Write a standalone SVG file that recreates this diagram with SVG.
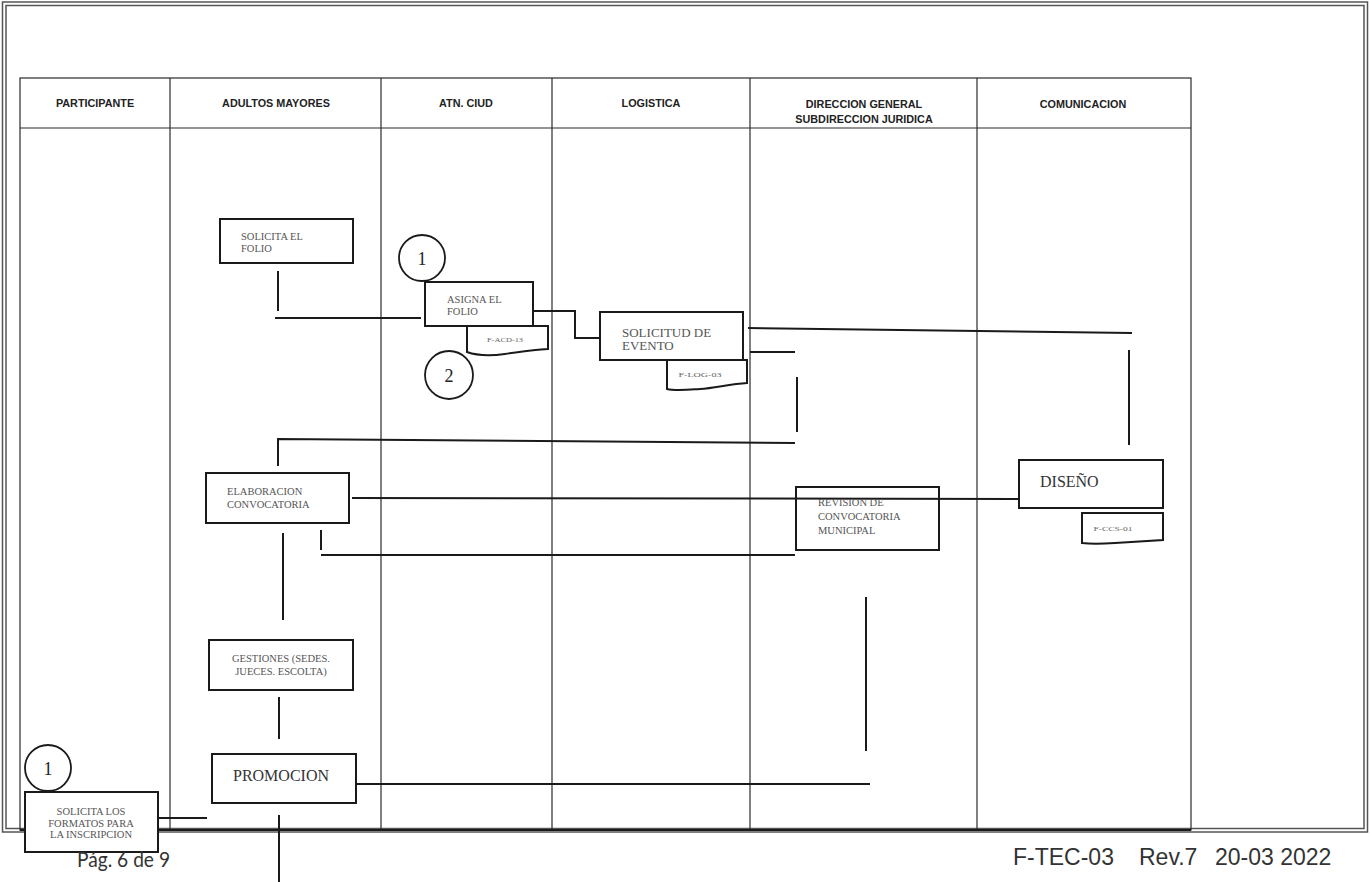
<svg xmlns="http://www.w3.org/2000/svg" width="1370" height="882" viewBox="0 0 1370 882">
<style>
.page{fill:none;stroke:#555;stroke-width:1.5}
.grid{fill:none;stroke:#2a2a2a;stroke-width:1.2}
.hdr{font-family:"Liberation Sans",Arial,sans-serif;font-weight:bold;font-size:10.8px;fill:#222;text-anchor:middle}
.box{fill:#fff;stroke:#1a1a1a;stroke-width:2}
.lbl{font-family:"Liberation Serif","Times New Roman",serif;font-size:10.5px;fill:#555}
.big{font-family:"Liberation Serif","Times New Roman",serif;font-size:16px;fill:#333}
.mid{font-family:"Liberation Serif","Times New Roman",serif;font-size:13px;fill:#555}
.tiny{font-family:"Liberation Serif","Times New Roman",serif;font-size:6.5px;fill:#666;text-anchor:middle}
.num{font-family:"Liberation Serif","Times New Roman",serif;font-size:18px;fill:#222;text-anchor:middle}
.cir{fill:#fff;stroke:#1a1a1a;stroke-width:1.8}
.con{fill:none;stroke:#1a1a1a;stroke-width:2}
.c{text-anchor:middle}
</style>
<rect width="1370" height="882" fill="#fff"/>
<g id="page">
<rect class="page" x="2.5" y="2" width="1365" height="830"/>
<rect class="page" x="6" y="5.5" width="1358" height="823"/>
</g>
<g id="table">
<rect class="grid" x="20" y="78" width="1171" height="752"/>
<line class="grid" x1="20" y1="128" x2="1191" y2="128"/>
<line class="grid" x1="170" y1="78" x2="170" y2="830"/>
<line class="grid" x1="381" y1="78" x2="381" y2="830"/>
<line class="grid" x1="552" y1="78" x2="552" y2="830"/>
<line class="grid" x1="750" y1="78" x2="750" y2="830"/>
<line class="grid" x1="977" y1="78" x2="977" y2="830"/>
<line x1="20" y1="830" x2="1191" y2="830" stroke="#1a1a1a" stroke-width="2"/>
<text class="hdr" x="95" y="107">PARTICIPANTE</text>
<text class="hdr" x="276" y="107">ADULTOS MAYORES</text>
<text class="hdr" x="466" y="107">ATN. CIUD</text>
<text class="hdr" x="651" y="107">LOGISTICA</text>
<text class="hdr" x="864" y="108">DIRECCION GENERAL</text>
<text class="hdr" x="864" y="123">SUBDIRECCION JURIDICA</text>
<text class="hdr" x="1083" y="108">COMUNICACION</text>
</g>
<g id="connectors">
<line class="con" x1="278" y1="271" x2="278" y2="311"/>
<line class="con" x1="275" y1="318" x2="421" y2="318"/>
<polyline class="con" points="533,311 575,311 575,338 600,338"/>
<line class="con" x1="748" y1="328" x2="1132" y2="333"/>
<line class="con" x1="1129" y1="350" x2="1129" y2="445"/>
<line class="con" x1="750" y1="352" x2="795" y2="352"/>
<line class="con" x1="797" y1="377" x2="797" y2="432"/>
<polyline class="con" points="278,466 278,439 795,443"/>
<line class="con" x1="352" y1="498" x2="1021" y2="499"/>
<line class="con" x1="283" y1="533" x2="283" y2="620"/>
<line class="con" x1="321" y1="530" x2="321" y2="550"/>
<line class="con" x1="321" y1="555" x2="795" y2="555"/>
<line class="con" x1="866" y1="597" x2="866" y2="751"/>
<line class="con" x1="279" y1="697" x2="279" y2="739"/>
<line class="con" x1="356" y1="784" x2="870" y2="784"/>
<line class="con" x1="279" y1="815" x2="279" y2="882"/>
<line class="con" x1="155" y1="818" x2="207" y2="818"/>
</g>
<g id="solicita-folio">
<rect class="box" x="220" y="219" width="133" height="44"/>
<text class="lbl" x="241" y="240">SOLICITA EL</text>
<text class="lbl" x="241" y="252">FOLIO</text>
</g>
<g id="asigna-folio">
<rect class="box" x="425" y="282" width="108" height="44"/>
<text class="lbl" x="447" y="303">ASIGNA EL</text>
<text class="lbl" x="447" y="315">FOLIO</text>
</g>
<g id="doc-acd">
<path class="box" d="M467,326 H548 V349 C530,350 520,352 505,354 C490,356 478,356 467,352 Z"/>
<text class="tiny" x="505" y="342" textLength="36" lengthAdjust="spacingAndGlyphs">F-ACD-13</text>
</g>
<g id="circle-1a">
<circle class="cir" cx="422" cy="258" r="23"/>
<text class="num" x="422" y="265">1</text>
</g>
<g id="circle-2">
<circle class="cir" cx="449" cy="375" r="24"/>
<text class="num" x="449" y="382">2</text>
</g>
<g id="solicitud-evento">
<rect class="box" x="600" y="312" width="143" height="48"/>
<text class="mid" x="622" y="337">SOLICITUD DE</text>
<text class="mid" x="622" y="350">EVENTO</text>
</g>
<g id="doc-log">
<path class="box" d="M667,360 H747 V383 C730,384 715,388 700,389 C685,390 675,391 667,389 Z"/>
<text class="tiny" x="700" y="377" textLength="43" lengthAdjust="spacingAndGlyphs">F-LOG-03</text>
</g>
<g id="elaboracion">
<rect class="box" x="206" y="473" width="143" height="50"/>
<text class="lbl" x="227" y="495">ELABORACION</text>
<text class="lbl" x="227" y="508">CONVOCATORIA</text>
</g>
<g id="revision">
<rect class="box" x="796" y="487" width="143" height="63" fill-opacity="0"/>
<text class="lbl" x="818" y="506">REVISION DE</text>
<text class="lbl" x="818" y="520">CONVOCATORIA</text>
<text class="lbl" x="818" y="534">MUNICIPAL</text>
</g>
<g id="diseno">
<rect class="box" x="1019" y="460" width="144" height="48"/>
<text class="big" x="1040" y="487">DISEÑO</text>
</g>
<g id="doc-ccs">
<path class="box" d="M1082,513 H1163 V540 C1145,541 1130,542 1115,543 C1100,544 1090,544 1082,543 Z"/>
<text class="tiny" x="1113" y="531" textLength="39" lengthAdjust="spacingAndGlyphs">F-CCS-01</text>
</g>
<g id="gestiones">
<rect class="box" x="209" y="640" width="144" height="50"/>
<text class="lbl c" x="281" y="662">GESTIONES (SEDES.</text>
<text class="lbl c" x="281" y="675">JUECES. ESCOLTA)</text>
</g>
<g id="promocion">
<rect class="box" x="212" y="754" width="144" height="49"/>
<text class="big c" x="281" y="781">PROMOCION</text>
</g>
<g id="solicita-formatos">
<rect class="box" x="25" y="792" width="133" height="60"/>
<text class="lbl c" x="91" y="815">SOLICITA LOS</text>
<text class="lbl c" x="91" y="827">FORMATOS PARA</text>
<text class="lbl c" x="91" y="838">LA INSCRIPCION</text>
</g>
<g id="circle-1b">
<circle class="cir" cx="48" cy="768" r="23"/>
<text class="num" x="48" y="775">1</text>
</g>
<g id="footer">
<text x="77" y="867" font-family="Lato,'Open Sans',sans-serif" font-size="22" fill="#333" textLength="93" lengthAdjust="spacingAndGlyphs">Pág. 6 de 9</text>
<text font-family="'Liberation Sans',Arial,sans-serif" font-size="23" fill="#333" y="865"><tspan x="1013">F-TEC-03</tspan><tspan x="1139">Rev.7</tspan><tspan x="1215">20-03 2022</tspan></text>
</g>
</svg>
